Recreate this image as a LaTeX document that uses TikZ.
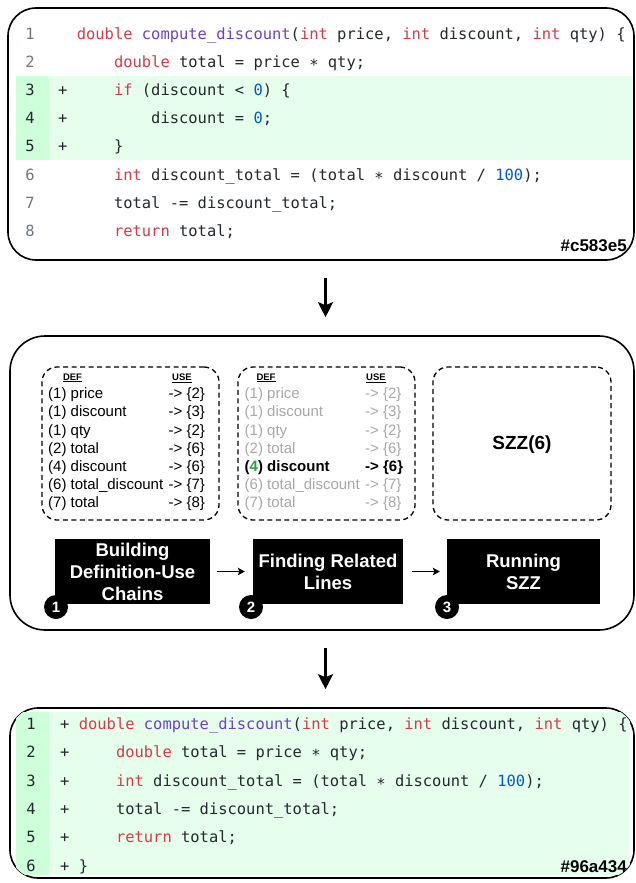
\documentclass[tikz,border=0pt]{standalone}
\usepackage{fontspec}
\setmainfont{Liberation Sans}
\newfontfamily\codefont{DejaVu Sans Mono}[WordSpace={1,0,0}]
\usetikzlibrary{arrows.meta}
\definecolor{kwred}{HTML}{D73A49}
\definecolor{fnpurple}{HTML}{6F42C1}
\definecolor{numblue}{HTML}{005CC5}
\definecolor{codetext}{HTML}{24292E}
\definecolor{lngray}{HTML}{6E7781}
\definecolor{addbg}{HTML}{E6FFED}
\definecolor{addnum}{HTML}{CDFFD8}
\definecolor{fadegray}{HTML}{A8A8A8}
\definecolor{hlgreen}{HTML}{22A34A}
\newcommand{\kw}[1]{\textcolor{kwred}{#1}}
\newcommand{\fnc}[1]{\textcolor{fnpurple}{#1}}
\newcommand{\cnum}[1]{\textcolor{numblue}{#1}}
\tikzset{
  code/.style={font=\codefont\fontsize{15.45}{18}\selectfont, text=codetext, inner sep=0pt, anchor=base west},
  lnum/.style={font=\codefont\fontsize{15.45}{18}\selectfont, text=lngray, inner sep=0pt, anchor=base},
  lnumdark/.style={lnum, text=codetext},
  outerbox/.style={draw=black, line width=1.6pt, fill=white, inner sep=0pt},
  dashbox/.style={draw=black, dash pattern=on 5pt off 3.5pt, line width=1.3pt, rounded corners=15pt, inner sep=0pt, minimum height=153pt},
  deftxt/.style={font=\fontsize{15}{18}\selectfont, inner sep=0pt, anchor=base west},
  fadetxt/.style={deftxt, text=fadegray},
  hdr/.style={font=\bfseries\fontsize{9.5}{10}\selectfont, inner sep=0pt},
  stepbox/.style={fill=black, text=white, font=\bfseries\fontsize{18.5}{22}\selectfont, align=center, inner sep=0pt, minimum height=65pt},
  numcirc/.style={circle, fill=black, text=white, font=\bfseries\fontsize{15}{15}\selectfont, minimum size=24pt, inner sep=0pt},
  bigarr/.style={line width=2.6pt, -{Stealth[length=15pt,width=15pt,inset=3pt]}},
  smallarr/.style={line width=1.3pt, -{Stealth[length=7pt,width=7.5pt,inset=1.5pt]}},
  tag/.style={font=\bfseries\fontsize{17}{17}\selectfont, inner sep=0pt, anchor=base east},
  szz/.style={font=\bfseries\fontsize{19}{19}\selectfont, inner sep=0pt}
}
\begin{document}
\begin{tikzpicture}[x=1pt,y=-1pt]
\useasboundingbox (0,0) rectangle (636,883);
\coordinate (ax) at (325.5,0);

% ---------- top box ----------
\node[outerbox, rounded corners=28pt, minimum width=626pt, minimum height=252pt] (top) at (321,134) {};
\fill[addbg] (16,75.8) rectangle (632,160.4);
\fill[addnum] (16,75.8) rectangle (48.5,160.4);

\node[lnum] (tn1) at (30,39.1) {1};
\node[lnum] (tn2) at (30,67.3) {2};
\node[lnumdark] (tn3) at (30,95.5) {3};
\node[lnumdark] (tn4) at (30,123.7) {4};
\node[lnumdark] (tn5) at (30,151.9) {5};
\node[lnum] (tn6) at (30,180.1) {6};
\node[lnum] (tn7) at (30,208.3) {7};
\node[lnum] (tn8) at (30,236.5) {8};

\node[code] (tp3) at (58,95.5) {+};
\node[code] (tp4) at (58,123.7) {+};
\node[code] (tp5) at (58,151.9) {+};

\node[code] (tc1) at (76.6,39.1) {\kw{double} \fnc{compute\_discount}(\kw{int} price, \kw{int} discount, \kw{int} qty) \{};
\node[code] (tc2) at (113.8,67.3) {\kw{double} total = price ∗ qty;};
\node[code] (tc3) at (113.8,95.5) {\kw{if} (discount < \cnum{0}) \{};
\node[code] (tc4) at (151,123.7) {discount = \cnum{0};};
\node[code] (tc5) at (113.8,151.9) {\}};
\node[code] (tc6) at (113.8,180.1) {\kw{int} discount\_total = (total ∗ discount / \cnum{100});};
\node[code] (tc7) at (113.8,208.3) {total -= discount\_total;};
\node[code] (tc8) at (113.8,236.5) {\kw{return} total;};

\node[tag] (tag1) at (627,251) {\#c583e5};

% ---------- middle box ----------
\node[outerbox, rounded corners=35pt, minimum width=624pt, minimum height=294pt] (mid) at (322,483) {};

\node[dashbox, minimum width=177pt] (d1) at (130.5,443.5) {};
\node[dashbox, minimum width=177pt] (d2) at (326.5,443.5) {};
\node[dashbox, minimum width=178pt] (d3) at (522,443.5) {};

\node[hdr] (h1) at (72.5,378) {\underline{DEF}};
\node[hdr] (h2) at (182,378) {\underline{USE}};
\node[hdr] (h3) at (266,378) {\underline{DEF}};
\node[hdr] (h4) at (376,378) {\underline{USE}};

\node[deftxt] (a1) at (48,398.7) {(1) price};
\node[deftxt] (a2) at (48,416.9) {(1) discount};
\node[deftxt] (a3) at (48,435.0) {(1) qty};
\node[deftxt] (a4) at (48,453.2) {(2) total};
\node[deftxt] (a5) at (48,471.4) {(4) discount};
\node[deftxt] (a6) at (48,489.6) {(6) total\_discount};
\node[deftxt] (a7) at (48,507.7) {(7) total};
\node[deftxt] (u1) at (168.5,398.7) {-> \{2\}};
\node[deftxt] (u2) at (168.5,416.9) {-> \{3\}};
\node[deftxt] (u3) at (168.5,435.0) {-> \{2\}};
\node[deftxt] (u4) at (168.5,453.2) {-> \{6\}};
\node[deftxt] (u5) at (168.5,471.4) {-> \{6\}};
\node[deftxt] (u6) at (168.5,489.6) {-> \{7\}};
\node[deftxt] (u7) at (168.5,507.7) {-> \{8\}};

\node[fadetxt] (b1t) at (244.5,398.7) {(1) price};
\node[fadetxt] (b2t) at (244.5,416.9) {(1) discount};
\node[fadetxt] (b3t) at (244.5,435.0) {(1) qty};
\node[fadetxt] (b4t) at (244.5,453.2) {(2) total};
\node[deftxt] (b5t) at (244.5,471.4) {\textbf{(\textcolor{hlgreen}{4}) discount}};
\node[fadetxt] (b6t) at (244.5,489.6) {(6) total\_discount};
\node[fadetxt] (b7t) at (244.5,507.7) {(7) total};
\node[fadetxt] (v1) at (365,398.7) {-> \{2\}};
\node[fadetxt] (v2) at (365,416.9) {-> \{3\}};
\node[fadetxt] (v3) at (365,435.0) {-> \{2\}};
\node[fadetxt] (v4) at (365,453.2) {-> \{6\}};
\node[deftxt] (v5) at (365,471.4) {\textbf{-> \{6\}}};
\node[fadetxt] (v6) at (365,489.6) {-> \{7\}};
\node[fadetxt] (v7) at (365,507.7) {-> \{8\}};

\node[szz] (szz) at (522,445) {SZZ(6)};

\node[stepbox, minimum width=155pt] (s1) at (132.5,571.5) {Building\\Definition-Use\\Chains};
\node[stepbox, minimum width=150pt] (s2) at (328,571.5) {Finding Related\\Lines};
\node[stepbox, minimum width=153pt] (s3) at (523.5,571.5) {Running\\SZZ};

\node[numcirc] (k1) at (56,607) {1};
\node[numcirc] (k2) at (251,607) {2};
\node[numcirc] (k3) at (447,607) {3};

\draw[smallarr, shorten <=7pt, shorten >=8pt] (s1) -- (s2);
\draw[smallarr, shorten <=9pt, shorten >=7pt] (s2) -- (s3);

% ---------- bottom box ----------
\node[outerbox, rounded corners=28pt, minimum width=624pt, minimum height=170pt] (bot) at (322,793) {};
\begin{scope}
\clip[rounded corners=28pt] (10,708) rectangle (634,878);
\fill[addbg] (16,712) rectangle (630,875);
\fill[addnum] (16,712) rectangle (48.5,875);
\end{scope}

\node[lnumdark] (bn1) at (31,729.6) {1};
\node[lnumdark] (bn2) at (31,757.9) {2};
\node[lnumdark] (bn3) at (31,786.2) {3};
\node[lnumdark] (bn4) at (31,814.5) {4};
\node[lnumdark] (bn5) at (31,842.8) {5};
\node[lnumdark] (bn6) at (31,871.1) {6};

\node[code] (bc1) at (60,729.6) {+ \kw{double} \fnc{compute\_discount}(\kw{int} price, \kw{int} discount, \kw{int} qty) \{};
\node[code] (bp2) at (60,757.9) {+};
\node[code] (bp3) at (60,786.2) {+};
\node[code] (bp4) at (60,814.5) {+};
\node[code] (bp5) at (60,842.8) {+};
\node[code] (bc2) at (115.8,757.9) {\kw{double} total = price ∗ qty;};
\node[code] (bc3) at (115.8,786.2) {\kw{int} discount\_total = (total ∗ discount / \cnum{100});};
\node[code] (bc4) at (115.8,814.5) {total -= discount\_total;};
\node[code] (bc5) at (115.8,842.8) {\kw{return} total;};
\node[code] (bc6) at (60,871.1) {+ \}};

\node[tag] (tag2) at (627,872) {\#96a434};

% ---------- arrows between stages ----------
\draw[bigarr, shorten <=17pt, shorten >=18pt] (top.south -| ax) -- (mid.north -| ax);
\draw[bigarr, shorten <=17pt, shorten >=18pt] (mid.south -| ax) -- (bot.north -| ax);
\end{tikzpicture}
\end{document}
